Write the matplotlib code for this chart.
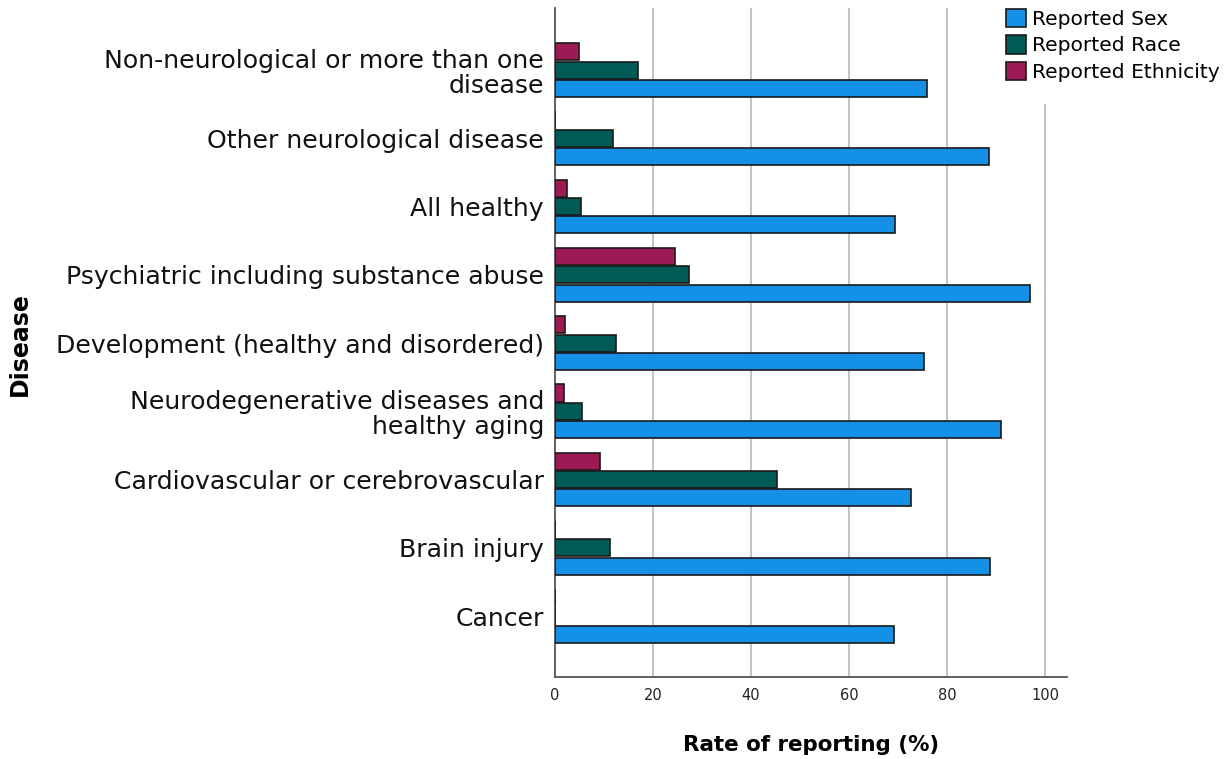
import matplotlib
matplotlib.use("Agg")
import matplotlib.pyplot as plt
import numpy as np
from matplotlib.patches import Patch

categories = [
    "Cancer",
    "Brain injury",
    "Cardiovascular or cerebrovascular",
    "Neurodegenerative diseases and\nhealthy aging",
    "Development (healthy and disordered)",
    "Psychiatric including substance abuse",
    "All healthy",
    "Other neurological disease",
    "Non-neurological or more than one\ndisease",
]
reported_sex = [69.2, 88.8, 72.6, 91.0, 75.4, 96.9, 69.4, 88.6, 75.9]
reported_race = [0.0, 11.2, 45.4, 5.4, 12.4, 27.4, 5.2, 11.8, 17.0]
reported_ethnicity = [0.0, 0.0, 9.1, 1.9, 2.0, 24.4, 2.5, 0.0, 4.8]
series_names = ["Reported Sex", "Reported Race", "Reported Ethnicity"]
xticks = [0, 20, 40, 60, 80, 100]

c_sex = "#1490E6"
c_race = "#005A55"
c_eth = "#9E1A55"
edge = "#1a1a1a"

plt.rcParams['font.family'] = ['DejaVu Sans']

fig = plt.figure(figsize=(12.31, 7.59), dpi=100)
ax = fig.add_axes([0.4509, 0.108, 0.4159, 0.8815])

y = np.arange(len(categories))
off = 0.268
h = 0.25
ax.barh(y - off, reported_sex, height=h, color=c_sex, edgecolor=edge, linewidth=1.2, zorder=3)
ax.barh(y, reported_race, height=h, color=c_race, edgecolor=edge, linewidth=1.2, zorder=3)
ax.barh(y + off, reported_ethnicity, height=h, color=c_eth, edgecolor=edge, linewidth=1.2, zorder=3)

ax.set_xlim(0, 104.5)
ax.set_ylim(-0.894, 8.91)

for xv in xticks[1:]:
    ymax = 0.855 if xv == 100 else 1.0
    ax.axvline(xv, ymin=0, ymax=ymax, color="#c4c4c4", linewidth=1.5, zorder=1)

ax.set_yticks(y)
ax.set_yticklabels(categories, fontsize=18.1, color="#111111", linespacing=1.08)
ax.set_xticks(xticks)
ax.set_xticklabels([str(t) for t in xticks], fontsize=10.5, color="#222222")
ax.tick_params(axis='y', length=0, pad=8)
ax.tick_params(axis='x', length=0, pad=8)

for s in ["top", "right"]:
    ax.spines[s].set_visible(False)
for s in ["left", "bottom"]:
    ax.spines[s].set_color("#555555")
    ax.spines[s].set_linewidth(1.3)

ax.set_xlabel("Rate of reporting (%)", fontsize=15.4, fontweight="bold", labelpad=23)
fig.text(0.016, 0.547, "Disease", rotation=90, fontsize=17, fontweight="bold",
         ha="center", va="center")

handles = [Patch(facecolor=c, edgecolor=edge, linewidth=1.2) for c in (c_sex, c_race, c_eth)]
leg = fig.legend(handles, series_names, loc="upper left", bbox_to_anchor=(0.8105, 0.999),
                 frameon=False, fontsize=14.6, handlelength=1.0, handleheight=1.0,
                 handletextpad=0.3, labelspacing=0.32, borderaxespad=0)

fig.savefig("out.png", dpi=100)
